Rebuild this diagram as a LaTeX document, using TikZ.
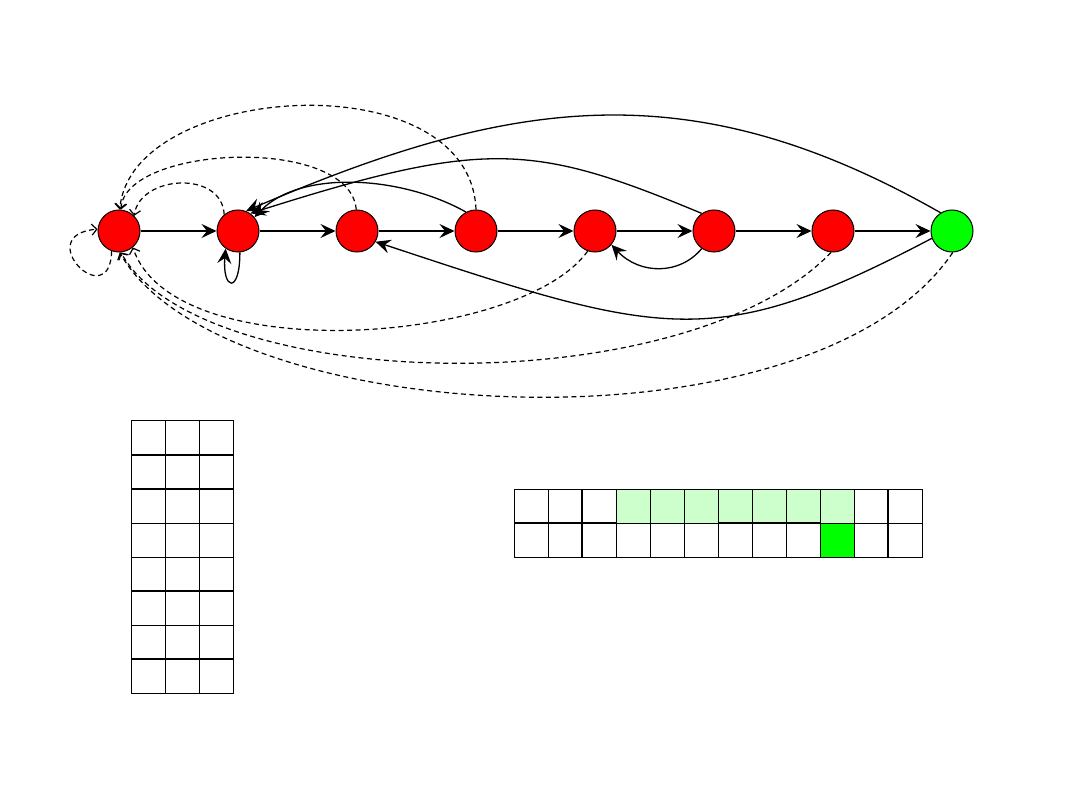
\documentclass[tikz,border=0pt]{standalone}
\usetikzlibrary{arrows.meta}
\definecolor{nodered}{RGB}{255,0,0}
\definecolor{nodegreen}{RGB}{0,255,0}
\definecolor{lightgreen}{RGB}{204,255,204}
\begin{document}
\begin{tikzpicture}[x=1pt,y=-1pt,
  st/.style={circle,draw=black,line width=1pt,fill=nodered,minimum size=42pt,inner sep=0pt},
  acc/.style={st,fill=nodegreen},
  solidedge/.style={line width=1.3pt,-{Stealth[length=15pt,width=14pt,inset=5.5pt]}},
  dashedge/.style={line width=1.2pt,dash pattern=on 5pt off 3.5pt,-{Straight Barb[length=5pt,width=11pt]}},
  cell/.style={line width=1pt}
]
\useasboundingbox (0,0) rectangle (1080,810);
% nodes
\node[st] (n0) at (119,231) {};
\node[st] (n1) at (238,231) {};
\node[st] (n2) at (357,231) {};
\node[st] (n3) at (476,231) {};
\node[st] (n4) at (595,231) {};
\node[st] (n5) at (714,231) {};
\node[st] (n6) at (833,231) {};
\node[acc] (n7) at (952,231) {};
% forward edges
\draw[solidedge] (n0) -- (n1);
\draw[solidedge] (n1) -- (n2);
\draw[solidedge] (n2) -- (n3);
\draw[solidedge] (n3) -- (n4);
\draw[solidedge] (n4) -- (n5);
\draw[solidedge] (n5) -- (n6);
\draw[solidedge] (n6) -- (n7);
% solid back edges
\draw[solidedge] (n1.-85) .. controls (240,295) and (222,290) .. (n1.-125);
\draw[solidedge] (n3.118) .. controls (400,175) and (300,170) .. (n1.40);
\draw[solidedge] (n5.125) .. controls (533,143) and (485,139) .. (n1.55);
\draw[solidedge] (n7.122) .. controls (692,71) and (513,96) .. (n1.68);
\draw[solidedge] (n5.-125) .. controls (680,275) and (640,275) .. (n4.-40);
\draw[solidedge] (n7.-160) .. controls (714,353) and (663,337) .. (n2.-30);
% dashed back edges
\draw[dashedge] (n0.-110) .. controls (110,315) and (30,235) .. (n0.175);
\draw[dashedge] (n1.130) .. controls (222,170) and (140,175) .. (n0.45);
\draw[dashedge] (n2.92) .. controls (350,135) and (125,145) .. (n0.85);
\draw[dashedge] (n3.90) .. controls (470,60) and (131,82) .. (n0.88);
\draw[dashedge] (n4.-110) .. controls (520,345) and (174,369) .. (n0.-50);
\draw[dashedge] (n6.-95) .. controls (683,406) and (200,394) .. (n0.-85);
\draw[dashedge] (n7.-88) .. controls (811,462) and (218,428) .. (n0.-88);
% left grid
\foreach \r in {0,...,7}{
  \foreach \c in {0,1,2}{
    \draw[cell] ({131+34*\c},{421+34*\r}) rectangle ++(34,34);
  }
}
\foreach \yy in {455,489,591,659}{
  \draw[line width=1.7pt] (131,\yy) -- (233,\yy);
}
% right grid
\foreach \c in {3,...,9}{
  \fill[lightgreen] ({514+34*\c},489) rectangle ++(34,34);
}
\fill[nodegreen] (820,523) rectangle ++(34,34);
\foreach \r in {0,1}{
  \foreach \c in {0,...,11}{
    \draw[cell] ({514+34*\c},{489+34*\r}) rectangle ++(34,34);
  }
}
\draw[line width=1.7pt] (514,523) -- (616,523);
\draw[line width=1.7pt] (718,523) -- (820,523);
\draw[line width=1.7pt] (582,489) -- (582,557);
\draw[line width=1.7pt] (888,489) -- (888,557);
\end{tikzpicture}
\end{document}
